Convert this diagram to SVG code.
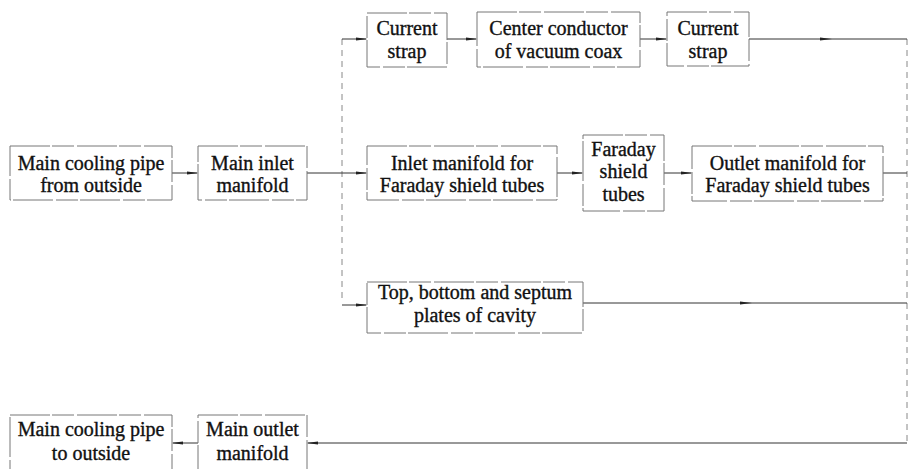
<svg xmlns="http://www.w3.org/2000/svg" width="921" height="469" viewBox="0 0 921 469">
<defs>
<style>
.box{fill:#fff;stroke:#777;stroke-width:1;stroke-dasharray:40 2 22 3}
.t{font-family:"Liberation Serif","Times New Roman",serif;font-size:20px;fill:#111;stroke:#111;stroke-width:0.35;text-anchor:middle}
.c{fill:none;stroke:#333;stroke-width:1}
.v{fill:none;stroke:#888;stroke-width:1;stroke-dasharray:6 5}
</style>
<marker id="ah" viewBox="0 0 12 6" refX="10" refY="3" markerWidth="12" markerHeight="6" markerUnits="userSpaceOnUse" orient="auto">
<path d="M0,1.6 L12,3 L0,4.4 Z" fill="#222"/>
</marker>
</defs>
<rect width="921" height="469" fill="#fff"/>
<g id="connectors">
<path class="v" d="M342,39 V303"/>
<path class="v" d="M907,39 V443"/>
<path class="c" d="M342,39 H366" marker-end="url(#ah)"/>
<path class="c" d="M447,39 H476" marker-end="url(#ah)"/>
<path class="c" d="M640,39 H666" marker-end="url(#ah)"/>
<path class="c" d="M749,39 L830,39 L907,39" marker-mid="url(#ah)"/>
<path class="c" d="M172,173 H197" marker-end="url(#ah)"/>
<path class="c" d="M307,173 H366" marker-end="url(#ah)"/>
<path class="c" d="M557,173 H582" marker-end="url(#ah)"/>
<path class="c" d="M664,173 H691" marker-end="url(#ah)"/>
<path class="c" d="M883,173 H907"/>
<path class="c" d="M342,305 H366" marker-end="url(#ah)"/>
<path class="c" d="M583,303 L750,303 L907,303" marker-mid="url(#ah)"/>
<path class="c" d="M907,443 H308" marker-end="url(#ah)"/>
<path class="c" d="M198,443 H173" marker-end="url(#ah)"/>
</g>
<g id="current-strap-1"><rect class="box" x="367" y="13" width="80" height="54"/><text class="t" x="407" y="35">Current</text><text class="t" x="407" y="58">strap</text></g>
<g id="center-conductor"><rect class="box" x="477" y="12" width="163" height="55"/><text class="t" x="558.5" y="35">Center conductor</text><text class="t" x="558.5" y="58">of vacuum coax</text></g>
<g id="current-strap-2"><rect class="box" x="667" y="12" width="82" height="54"/><text class="t" x="708" y="35">Current</text><text class="t" x="708" y="58">strap</text></g>
<g id="main-pipe-in"><rect class="box" x="10" y="146" width="162" height="54"/><text class="t" x="91" y="170">Main cooling pipe</text><text class="t" x="91" y="192">from outside</text></g>
<g id="main-inlet"><rect class="box" x="198" y="146" width="109" height="54"/><text class="t" x="252.5" y="170">Main inlet</text><text class="t" x="252.5" y="192">manifold</text></g>
<g id="inlet-manifold"><rect class="box" x="367" y="146" width="190" height="54"/><text class="t" x="462" y="170">Inlet manifold for</text><text class="t" x="462" y="192">Faraday shield tubes</text></g>
<g id="faraday-tubes"><rect class="box" x="583" y="135" width="81" height="76"/><text class="t" x="623.5" y="156">Faraday</text><text class="t" x="623.5" y="178">shield</text><text class="t" x="623.5" y="201">tubes</text></g>
<g id="outlet-manifold"><rect class="box" x="692" y="146" width="191" height="55"/><text class="t" x="787.5" y="170">Outlet manifold for</text><text class="t" x="787.5" y="192">Faraday shield tubes</text></g>
<g id="plates"><rect class="box" x="367" y="282" width="216" height="51"/><text class="t" x="475" y="299">Top, bottom and septum</text><text class="t" x="475" y="322">plates of cavity</text></g>
<g id="main-pipe-out"><rect class="box" x="10" y="415" width="162" height="60"/><text class="t" x="91" y="436">Main cooling pipe</text><text class="t" x="91" y="460">to outside</text></g>
<g id="main-outlet"><rect class="box" x="198" y="415" width="109" height="60"/><text class="t" x="252.5" y="436">Main outlet</text><text class="t" x="252.5" y="460">manifold</text></g>
</svg>
